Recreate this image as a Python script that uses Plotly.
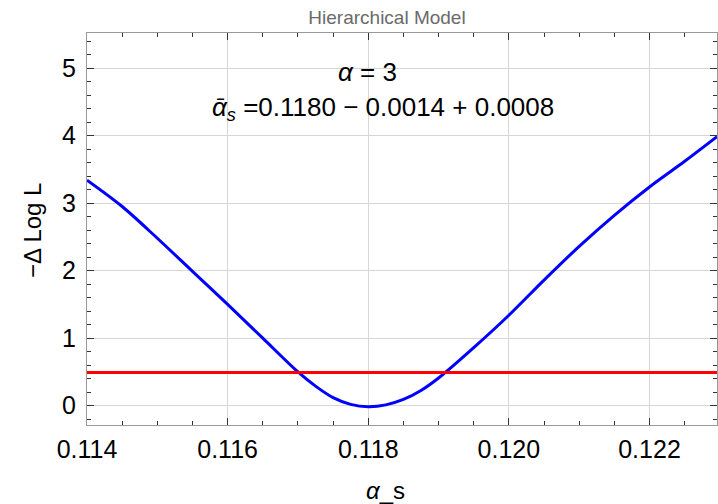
import plotly.graph_objects as go

# Data
alpha_s = [0.11400, 0.11450, 0.11500, 0.11550, 0.11600, 0.11650, 0.11700, 0.11725,
           0.11750, 0.11775, 0.11800, 0.11825, 0.11850, 0.11875, 0.11900, 0.11950,
           0.12000, 0.12050, 0.12100, 0.12150, 0.12200, 0.12250, 0.12296]
neg_dlogl = [3.34, 2.95, 2.48, 1.99, 1.50, 1.00, 0.50, 0.29,
             0.12, 0.02, -0.015, 0.012, 0.092, 0.225, 0.41, 0.86,
             1.34, 1.86, 2.36, 2.82, 3.24, 3.62, 3.985]
threshold = 0.49
x_range = [0.114, 0.12296]
y_range = [-0.286, 5.52]
x_ticks = [0.114, 0.116, 0.118, 0.120, 0.122]
x_ticklabels = ["0.114", "0.116", "0.118", "0.120", "0.122"]
y_ticks = [0, 1, 2, 3, 4, 5]

FONT = "Liberation Sans, Arial, sans-serif"

fig = go.Figure()
fig.add_trace(go.Scatter(x=alpha_s, y=neg_dlogl, mode="lines",
                         line=dict(color="#0000ff", width=3, shape="spline", smoothing=0.9),
                         showlegend=False, hoverinfo="skip"))
fig.add_trace(go.Scatter(x=x_range, y=[threshold, threshold], mode="lines",
                         line=dict(color="#ff0000", width=3),
                         showlegend=False, hoverinfo="skip"))

axis_common = dict(
    showline=True, linecolor="#999999", linewidth=1.3, mirror="allticks",
    ticks="inside", tickcolor="#333333", tickwidth=1, ticklen=7,
    showgrid=True, gridcolor="#d6d6d6", gridwidth=1, zeroline=False,
    tickfont=dict(family=FONT, size=25, color="#000000"),
)

fig.update_xaxes(range=x_range, tickvals=x_ticks, ticktext=x_ticklabels,
                 minor=dict(dtick=0.0005, tick0=0.114, ticks="inside", ticklen=4,
                            tickcolor="#333333", showgrid=False),
                 ticklabelstandoff=2, **axis_common)
fig.update_yaxes(range=y_range, tickvals=y_ticks,
                 minor=dict(dtick=0.2, tick0=0, ticks="inside", ticklen=4,
                            tickcolor="#333333", showgrid=False),
                 ticklabelstandoff=5, **axis_common)

fig.update_layout(
    width=718, height=504,
    margin=dict(l=87, r=1, t=33, b=79),
    paper_bgcolor="white", plot_bgcolor="white",
    font=dict(family=FONT, color="#000000"),
    title=dict(text="Hierarchical Model", x=387/718, xanchor="center",
               y=1 - 17/504, yanchor="middle", yref="container",
               font=dict(family=FONT, size=19, color="#6a6a6a")),
)

annotations = [
    dict(text="<i>α</i> = 3", x=(367 - 87) / 630, y=(425 - 72) / 392,
         xanchor="center", yanchor="middle", font=dict(size=26)),
    dict(text="<i>ᾱ</i><sub><i>s</i></sub> =0.1180 − 0.0014 + 0.0008",
         x=(556 - 87) / 630, y=(425 - 108) / 392,
         xanchor="right", yanchor="middle", font=dict(size=26)),
    dict(text="<i>α</i>_s", x=(385 - 87) / 630, y=-(491 - 425) / 392,
         xanchor="center", yanchor="middle", font=dict(size=24)),
    dict(text="−Δ Log L", x=-(87 - 33) / 630, y=(425 - 231) / 392,
         xanchor="center", yanchor="middle", textangle=-90, font=dict(size=24)),
]
for a in annotations:
    a.update(xref="paper", yref="paper", showarrow=False)
    a["font"].update(family=FONT, color="#000000")
fig.update_layout(annotations=annotations)

fig.write_html("out.html")
